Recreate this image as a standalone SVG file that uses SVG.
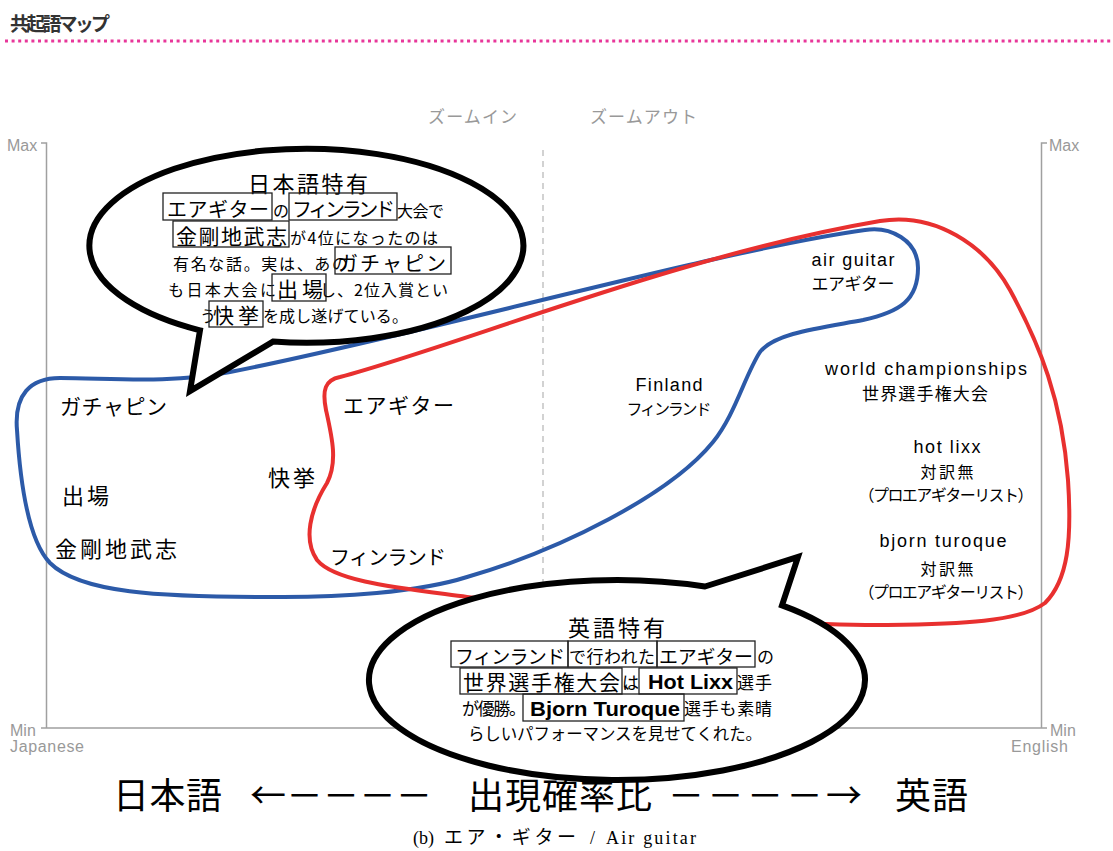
<svg xmlns="http://www.w3.org/2000/svg" width="1113" height="851" viewBox="0 0 1113 851">
<style>
.jp{font-family:"Noto Sans CJK JP","Noto Sans CJK SC",sans-serif;fill:#000}
.en{font-family:"Liberation Sans",Arial,sans-serif;fill:#000}
.ax{font-family:"Liberation Sans",Arial,sans-serif;fill:#999;font-size:16px}
.zm{font-family:"Noto Sans CJK JP",sans-serif;fill:#999;font-size:17px}
.box{fill:none;stroke:#222;stroke-width:1.3}
.bubble{fill:#fff;stroke:#000;stroke-width:6;stroke-linejoin:miter}
.blue{fill:none;stroke:#2c5aa8;stroke-width:4}
.red{fill:none;stroke:#e8302f;stroke-width:4}
.s16{font-size:16px}.s17{font-size:17px}.s20{font-size:20px}.s21{font-size:21px}.s22{font-size:22px}
.eb{font-family:"Liberation Sans",Arial,sans-serif;font-weight:bold;font-size:21px;fill:#000}
.lbl{font-size:18px}
.cap{font-family:"Liberation Serif","Noto Sans CJK JP",serif;font-size:18px;fill:#000}
</style>

<g id="header">
<text class="jp" x="10" y="31" font-size="19" font-weight="bold" style="fill:#333" textLength="100">共起語マップ</text>
<line x1="5" y1="41" x2="1113" y2="41" stroke="#e8379a" stroke-width="3" stroke-dasharray="3 3.6"/>
</g>

<g id="axes">
<path d="M41 143H46.5V728H41M46.5 728H1047M1041.5 728V143H1047" fill="none" stroke="#a0a0a0" stroke-width="1.5"/>
<line x1="543" y1="150" x2="543" y2="728" stroke="#bbb" stroke-width="1.3" stroke-dasharray="6 5"/>
<text class="ax" x="7" y="151">Max</text>
<text class="ax" x="1049" y="151">Max</text>
<text class="ax" x="10" y="736">Min</text>
<text class="ax" x="10" y="752" textLength="74">Japanese</text>
<text class="ax" x="1050" y="736">Min</text>
<text class="ax" x="1068" y="752" text-anchor="end" textLength="57">English</text>
<text class="zm" x="428" y="123" textLength="89">ズームイン</text>
<text class="zm" x="590" y="123" textLength="107">ズームアウト</text>
</g>

<g id="connectors">
<path class="blue" d="M60 378C110 378 170 384 230 372C420 335 720 250 865 230C890 226 918 240 918 268C918 300 900 312 863 320C820 328 775 333 760 352C745 375 735 415 713 442C670 495 560 550 467 577C420 592 340 598 267 597C160 597 80 593 50 563C28 540 20 480 17 430C14 395 30 378 60 378Z"/>
<path class="red" d="M340 377C460 345 680 255 880 221C935 212 985 245 1010 290C1040 345 1062 400 1068 480C1072 540 1068 580 1045 603C1020 622 960 624 887 625C780 626 560 608 467 597C400 588 335 582 317 560C303 540 310 510 327 483C338 462 332 437 326 410C322 390 325 380 340 377Z"/>
</g>

<g id="ja-labels">
<g id="n-gachapin"><text class="jp s21" x="60" y="414" textLength="107">ガチャピン</text></g>
<g id="n-shutsujo"><text class="jp s22" x="62" y="504" textLength="47">出場</text></g>
<g id="n-kongochi"><text class="jp s22" x="55" y="557" textLength="122">金剛地武志</text></g>
<g id="n-kaikyo"><text class="jp s22" x="268" y="486" textLength="47">快挙</text></g>
<g id="n-airguitar-ja"><text class="jp s21" x="343" y="413" textLength="111">エアギター</text></g>
<g id="n-finland-ja"><text class="jp s20" x="330" y="565" textLength="116">フィンランド</text></g>
</g>

<g id="en-labels">
<g id="n-airguitar"><text class="en lbl" x="853" y="266" text-anchor="middle" textLength="83">air guitar</text>
<text class="jp s17" x="853" y="290" text-anchor="middle" textLength="83">エアギター</text></g>
<g id="n-finland"><text class="en lbl" x="669" y="391" text-anchor="middle" textLength="67">Finland</text>
<text class="jp s16" x="669" y="415" text-anchor="middle" textLength="85">フィンランド</text></g>
<g id="n-world"><text class="en lbl" x="926" y="375" text-anchor="middle" textLength="202">world championships</text>
<text class="jp s17" x="925" y="400" text-anchor="middle" textLength="126">世界選手権大会</text></g>
<g id="n-hotlixx"><text class="en lbl" x="947" y="453" text-anchor="middle" textLength="67">hot lixx</text>
<text class="jp s16" x="947" y="478" text-anchor="middle" textLength="53">対訳無</text>
<text class="jp s16" x="946" y="501" text-anchor="middle" textLength="175">（プロエアギターリスト）</text></g>
<g id="n-bjorn"><text class="en lbl" x="943" y="547" text-anchor="middle" textLength="127">bjorn turoque</text>
<text class="jp s16" x="947" y="575" text-anchor="middle" textLength="53">対訳無</text>
<text class="jp s16" x="946" y="598" text-anchor="middle" textLength="175">（プロエアギターリスト）</text></g>
</g>

<g id="bubble-ja">
<path class="bubble" d="M273 341.6L190 391L200 330.3A217 97 0 1 1 273 341.6Z"/>
<text class="jp s22" x="248" y="192" textLength="120">日本語特有</text>
<rect class="box" x="163" y="193" width="109" height="27"/>
<rect class="box" x="289" y="193" width="108" height="27"/>
<text class="jp s20" x="167" y="217" textLength="102">エアギター</text>
<text class="jp s16" x="273" y="217">の</text>
<text class="jp s20" x="292" y="217" textLength="103">フィンランド</text>
<text class="jp s16" x="397" y="217" textLength="47">大会で</text>
<rect class="box" x="173" y="221" width="116" height="26"/>
<text class="jp s21" x="176" y="244" textLength="111">金剛地武志</text>
<text class="jp s16" x="290" y="244" textLength="148">が4位になったのは</text>
<text class="jp s16" x="173" y="270" textLength="175">有名な話。実は、あの</text>
<rect class="box" x="335" y="247" width="116" height="27"/>
<text class="jp s20" x="338" y="271" textLength="108">ガチャピン</text>
<text class="jp s16" x="168" y="296" textLength="108">も日本大会に</text>
<rect class="box" x="272" y="274" width="54" height="27"/>
<text class="jp s21" x="277" y="297" textLength="46">出場</text>
<text class="jp s16" x="320" y="296" textLength="128">し、2位入賞とい</text>
<text class="jp s16" x="200" y="322">う</text>
<rect class="box" x="209" y="301" width="54" height="26"/>
<text class="jp s21" x="213" y="323" textLength="46">快挙</text>
<text class="jp s16" x="263" y="322" textLength="145">を成し遂げている。</text>
</g>

<g id="bubble-en">
<path class="bubble" d="M705 586.5L798 557L782 605.35A248 100 0 1 1 705 586.5Z"/>
<text class="jp s22" x="568" y="636" textLength="97">英語特有</text>
<rect class="box" x="451" y="641" width="117" height="26"/>
<rect class="box" x="568" y="641" width="89" height="26"/>
<rect class="box" x="657" y="641" width="98" height="26"/>
<text class="jp" x="455" y="664" font-size="19" textLength="110">フィンランド</text>
<text class="jp s17" x="569" y="663" textLength="86">で行われた</text>
<text class="jp" x="659" y="664" font-size="19" textLength="94">エアギター</text>
<text class="jp s17" x="757" y="663">の</text>
<rect class="box" x="460" y="668" width="162" height="26"/>
<text class="jp s21" x="463" y="690" textLength="157">世界選手権大会</text>
<text class="jp s17" x="622" y="689" textLength="18">は、</text>
<rect class="box" x="639" y="668" width="98" height="26"/>
<text class="eb" x="648" y="689" textLength="85" lengthAdjust="spacingAndGlyphs">Hot Lixx</text>
<text class="jp s17" x="737" y="689" textLength="35">選手</text>
<text class="jp s17" x="462" y="715" textLength="64">が優勝。</text>
<rect class="box" x="523" y="694" width="161" height="27"/>
<text class="eb" x="530" y="716" textLength="150" lengthAdjust="spacingAndGlyphs">Bjorn Turoque</text>
<text class="jp s17" x="684" y="715" textLength="88">選手も素晴</text>
<text class="jp" x="468" y="740" font-size="16.5" textLength="294">らしいパフォーマンスを見せてくれた。</text>
</g>

<g id="bottom-axis">
<text class="jp" x="113" y="809" font-size="36" textLength="109">日本語</text>
<text class="jp" x="250" y="809" font-size="36" textLength="182">←－－－－</text>
<text class="jp" x="468" y="809" font-size="36" textLength="184">出現確率比</text>
<text class="jp" x="668" y="809" font-size="36" textLength="194">－－－－→</text>
<text class="jp" x="895" y="809" font-size="36" textLength="73">英語</text>
</g>

<g id="caption">
<text class="cap" y="844"><tspan x="413">(b)</tspan><tspan x="444" font-size="19" textLength="132">エア・ギター</tspan><tspan x="590">/</tspan><tspan x="606" textLength="90">Air guitar</tspan></text>
</g>
</svg>
